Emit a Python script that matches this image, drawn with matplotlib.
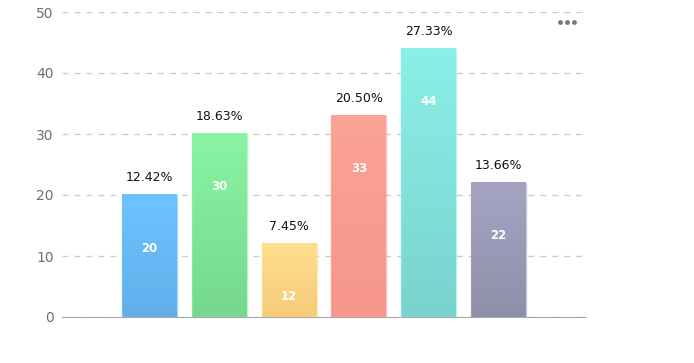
import matplotlib.pyplot as plt
import numpy as np
from matplotlib.colors import LinearSegmentedColormap

values = [20, 30, 12, 33, 44, 22]
percents = ["12.42%", "18.63%", "7.45%", "20.50%", "27.33%", "13.66%"]
top_colors = ["#6cc4fe", "#89f4a3", "#fedf8d", "#fba396", "#8bf0e7", "#a5a5c3"]
bottom_colors = ["#62aeeb", "#76d88e", "#f7cb7b", "#f7968a", "#79d3cd", "#8f8fac"]
yticks = [0, 10, 20, 30, 40, 50]

fig = plt.figure(figsize=(6.94, 3.63), dpi=100)
ax = fig.add_axes([62 / 694, 1 - 317 / 363, 524 / 694, 305 / 363])

x = np.arange(len(values))
width = 0.786
bars = ax.bar(x, values, width=width, color="none", edgecolor="none", zorder=3)

grad = np.linspace(1, 0, 100).reshape(-1, 1)
for b, v, ct, cb in zip(bars, values, top_colors, bottom_colors):
    cmap = LinearSegmentedColormap.from_list("g", [cb, ct])
    x0 = b.get_x()
    ax.imshow(grad, cmap=cmap, aspect="auto", extent=[x0, x0 + width, 0, v],
              zorder=3, vmin=0, vmax=1)
    # thin light border like the reference
    ax.bar(b.get_x() + width / 2, v, width=width, color="none",
           edgecolor=ct, linewidth=1, zorder=4, alpha=0.6)

for xi, v, p in zip(x, values, percents):
    ax.annotate(p, (xi, v), xytext=(0, 11), textcoords="offset pixels",
                ha="center", va="bottom", fontsize=9, color="#111111", zorder=5)
    ax.annotate(str(v), (xi, v), xytext=(0, -53), textcoords="offset pixels",
                ha="center", va="center", fontsize=8.5, fontweight="bold",
                color="white", zorder=5)

ax.set_xlim(-1.25, len(values) + 0.25)
ax.set_ylim(0, 50)
ax.set_yticks(yticks)
ax.set_xticks([])
ax.yaxis.grid(True, linestyle=(0, (4.3, 4.3)), color="#cccccc", linewidth=1, zorder=0)
ax.set_axisbelow(True)
for s in ["top", "right", "left"]:
    ax.spines[s].set_visible(False)
ax.spines["bottom"].set_color("#aaaaaa")
ax.tick_params(axis="y", length=0, labelsize=10, labelcolor="#6e6e6e", pad=6)

# "more" menu dots
ax.scatter([560 / 694, 567 / 694, 574 / 694], [1 - 21.5 / 363] * 3, s=6, color="#777777",
           transform=fig.transFigure, clip_on=False, zorder=6)

fig.savefig("out.png", dpi=100)
